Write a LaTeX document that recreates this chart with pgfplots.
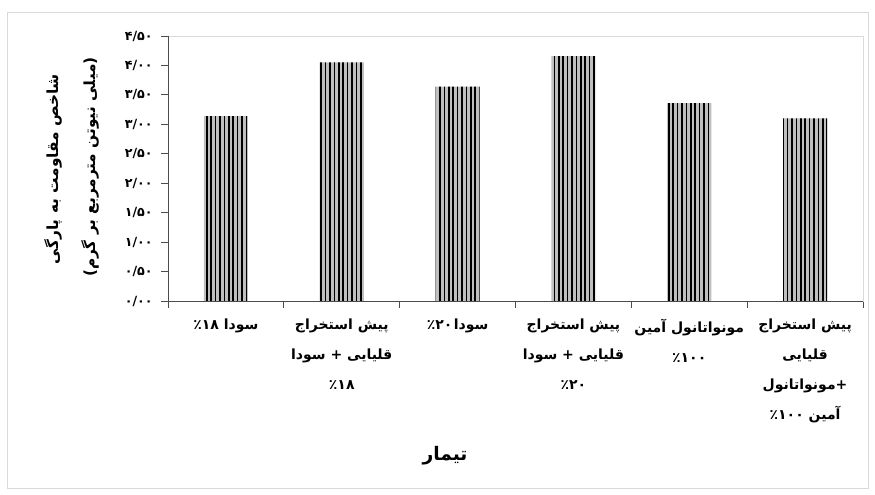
\documentclass[border=0pt]{standalone}
\usepackage{fontspec}
\usepackage{pgfplots}
\pgfplotsset{compat=1.18}
\usetikzlibrary{patterns.meta}
\TeXXeTstate=1
\newfontfamily\fa[Script=Arabic]{DejaVu Sans}
\begin{document}
\begin{tikzpicture}[x=1pt,y=1pt]
\useasboundingbox (0,0) rectangle (656.25,-371.25);
\draw[gray!30, line width=0.6pt] (5.25,-9.5) rectangle (651.5,-366);
\begin{axis}[
  at={(126pt,-225.75pt)}, anchor=south west,
  scale only axis, width=521.25pt, height=198.75pt,
  xmin=-0.5, xmax=5.5, ymin=0, ymax=4.5,
  xtick pos=bottom, ytick pos=left,
  ytick={0,0.5,1,1.5,2,2.5,3,3.5,4,4.5},
  yticklabels={۰/۰۰,۰/۵۰,۱/۰۰,۱/۵۰,۲/۰۰,۲/۵۰,۳/۰۰,۳/۵۰,۴/۰۰,۴/۵۰},
  xtick={-0.5,0.5,1.5,2.5,3.5,4.5,5.5},
  xticklabels={},
  extra x ticks={0,1,2,3,4,5},
  extra x tick labels={
    {\beginR سودا ۱۸\kern0pt٪\endR},
    {\beginR پیش استخراج\endR\\\beginR قلیایی + سودا\endR\\\beginR ۱۸\kern0pt٪\endR},
    {\beginR سودا\kern1pt۲۰\kern0pt٪\endR},
    {\beginR پیش استخراج\endR\\\beginR قلیایی + سودا\endR\\\beginR ۲۰\kern0pt٪\endR},
    {\beginR مونواتانول آمین\endR\\\beginR ۱۰۰\kern0pt٪\endR},
    {\beginR پیش استخراج\endR\\\beginR قلیایی\endR\\\beginR +\kern0pt مونواتانول\endR\\\beginR آمین ۱۰۰\kern0pt٪\endR}},
  extra x tick style={major tick length=0pt},
  tick align=outside, major tick length=5pt,
  tick style={gray!60!black, line width=0.6pt},
  axis line style={gray!30},
  yticklabel style={font=\fa\bfseries\fontsize{9.5}{11}\selectfont, xshift=-3pt},
  xticklabel style={font=\fa\bfseries\fontsize{10.5}{22.5}\selectfont, align=center, anchor=north, yshift=-10pt},
]
\addplot[ybar, bar width=0.38, draw=none, fill=gray!50,
  postaction={pattern={Lines[angle=90,distance=3.3pt,line width=1.1pt]}, pattern color=black}]
  coordinates {(0,3.14) (1,4.05) (2,3.64) (3,4.16) (4,3.36) (5,3.10)};
\draw[gray!60!black, line width=0.7pt] (rel axis cs:0,1) -- (rel axis cs:0,0) -- (rel axis cs:1,0);
\end{axis}
\node[rotate=90, font=\fa\bfseries\fontsize{11.5}{13}\selectfont] at (39.75,-126.75) {\beginR شاخص مقاومت به پارگی\endR};
\node[rotate=90, font=\fa\bfseries\fontsize{11.5}{13}\selectfont] at (67.5,-125.25) {\beginR (میلی نیوتن مترمربع بر گرم)\endR};
\node[font=\fa\bfseries\fontsize{14}{16}\selectfont] at (333.75,-342) {تیمار};
\end{tikzpicture}
\end{document}
